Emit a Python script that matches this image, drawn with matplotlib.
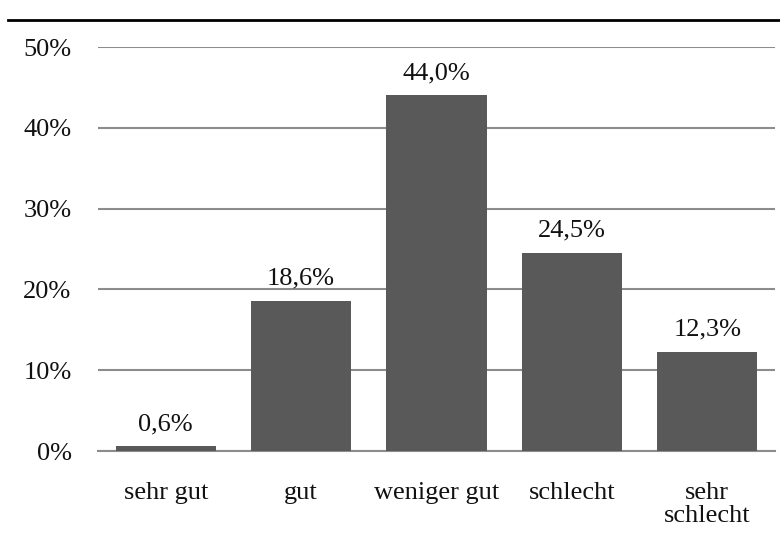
import matplotlib.pyplot as plt
from matplotlib.lines import Line2D

categories = ["sehr gut", "gut", "weniger gut", "schlecht", "sehr\nschlecht"]
values = [0.6, 18.6, 44.0, 24.5, 12.3]
yticks = [0, 10, 20, 30, 40, 50]

plt.rcParams['font.family'] = ['Liberation Serif', 'DejaVu Serif']

fig = plt.figure(figsize=(7.8, 5.44), dpi=100)
ax = fig.add_axes([98 / 780, 1 - 451 / 544, 677 / 780, 404 / 544])

x = range(len(categories))
ax.bar(x, values, width=0.74, color="#595959", zorder=3)
for xi, v in zip(x, values):
    ax.text(xi, v + 2.0, f"{v:.1f}%".replace(".", ","), ha="center", va="baseline",
            fontsize=19, color="#111111")

ax.set_xlim(-0.5, len(categories) - 0.5)
ax.set_ylim(0, 50)
ax.set_yticks(yticks)
ax.set_yticklabels([f"{t}%" for t in yticks], fontsize=19)
ax.set_xticks(list(x))
ax.set_xticklabels(categories, fontsize=19, linespacing=1.1)
ax.tick_params(axis="both", length=0, colors="#111111")
ax.tick_params(axis="y", pad=19)
ax.tick_params(axis="x", pad=22)
ax.yaxis.grid(True, color="#8c8c8c", linewidth=1.5, zorder=0)
for s in ["top", "right", "left"]:
    ax.spines[s].set_visible(False)
ax.spines["bottom"].set_color("#8c8c8c")
ax.spines["bottom"].set_linewidth(1.5)

fig.add_artist(Line2D([8 / 780, 1], [1 - 20 / 544, 1 - 20 / 544], color="black", linewidth=2))

fig.savefig("out.png", dpi=100)
